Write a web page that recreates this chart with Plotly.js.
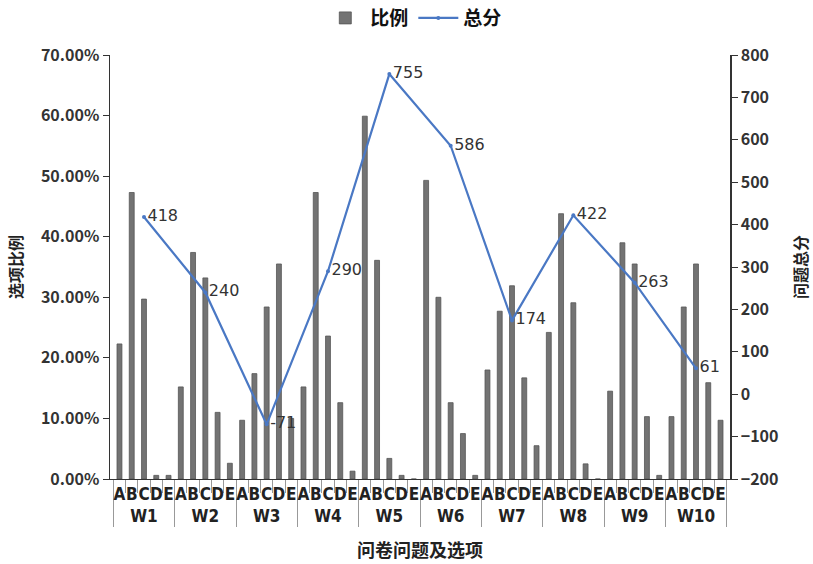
<!DOCTYPE html>
<html>
<head>
<meta charset="utf-8">
<script src="https://cdn.plot.ly/plotly-3.0.1.min.js"></script>
<style>html,body{margin:0;padding:0;background:#fff;}#chart{width:813px;height:564px;}</style>
</head>
<body>
<div id="chart"></div>
<script>
// Questions and options
const questions = ['W1','W2','W3','W4','W5','W6','W7','W8','W9','W10'];
const options = ['A','B','C','D','E'];
// 比例 (share of each option, %) per question, in order A..E
const shareW1 = [22.3, 47.3, 29.7, 0.6, 0.6];
const shareW2 = [15.2, 37.4, 33.2, 11.0, 2.6];
const shareW3 = [9.7, 17.4, 28.4, 35.5, 10.0];
const shareW4 = [15.2, 47.3, 23.6, 12.6, 1.3];
const shareW5 = [59.9, 36.1, 3.4, 0.6, 0.0];
const shareW6 = [49.3, 30.0, 12.6, 7.5, 0.6];
const shareW7 = [18.0, 27.7, 31.9, 16.7, 5.5];
const shareW8 = [24.2, 43.8, 29.1, 2.5, 0.0];
const shareW9 = [14.5, 39.0, 35.5, 10.3, 0.6];
const shareW10 = [10.3, 28.4, 35.5, 15.9, 9.7];
// 总分 (total score) per question
const totalScore = [418, 240, -71, 290, 755, 586, 174, 422, 263, 61];
const scoreAnchorOption = 'C';

const shares = [shareW1, shareW2, shareW3, shareW4, shareW5, shareW6, shareW7, shareW8, shareW9, shareW10];
const xQ = [], xO = [], yS = [];
questions.forEach((q, i) => {
  options.forEach((o, j) => {
    xQ.push(q); xO.push(o); yS.push(shares[i][j] / 100);
  });
});

const tickFont = {family: 'Noto Sans CJK SC, DejaVu Sans', size: 16, color: '#333', weight: 'bold'};

const barTrace = {
  type: 'bar',
  name: '比例',
  x: [xQ, xO],
  y: yS,
  marker: {color: '#737373', line: {color: '#555555', width: 0.8}},
  yaxis: 'y',
  hoverinfo: 'y'
};

const lineTrace = {
  type: 'scatter',
  mode: 'lines+markers+text',
  name: '总分',
  x: [questions, questions.map(() => scoreAnchorOption)],
  y: totalScore,
  yaxis: 'y2',
  line: {color: '#4A78C4', width: 2.2},
  marker: {color: '#4A78C4', size: 4},
  text: totalScore.map(String),
  textposition: 'middle right',
  textfont: {family: 'DejaVu Sans, Noto Sans', size: 16, color: '#333'},
  cliponaxis: false
};

const layout = {
  width: 813,
  height: 564,
  margin: {l: 110, r: 83, t: 55, b: 85},
  paper_bgcolor: '#fff',
  plot_bgcolor: '#fff',
  bargap: 0.6,
  showlegend: true,
  legend: {
    orientation: 'h', x: 0.49, xanchor: 'center',
    yref: 'container', y: 0.968, yanchor: 'middle',
    font: {family: 'Noto Sans CJK SC', size: 19, color: '#111', weight: 'bold'},
    itemwidth: 40,
    traceorder: 'normal'
  },
  xaxis: {
    type: 'multicategory',
    tickmode: 'linear', tick0: 0, dtick: 1, tickangle: 0,
    showline: true, linecolor: '#333', linewidth: 1,
    ticks: 'outside', ticklen: 13, tickcolor: '#999',
    showdividers: true, dividercolor: '#999', dividerwidth: 1,
    tickfont: {family: 'DejaVu Sans Condensed, DejaVu Sans', size: 17, color: '#222', weight: 'bold'},
    title: {text: '问卷问题及选项', font: {family: 'Noto Sans CJK SC', size: 18, color: '#222', weight: 'bold'}, standoff: 18},
    showgrid: false, zeroline: false, automargin: false
  },
  yaxis: {
    range: [0, 0.7], dtick: 0.1, tickformat: '.2%',
    showline: true, linecolor: '#333', linewidth: 1.5,
    ticks: 'outside', ticklen: 6, tickcolor: '#333',
    tickfont: tickFont,
    showgrid: false, zeroline: false,
    title: {text: '选项比例', font: {family: 'Noto Sans CJK SC', size: 16, color: '#222', weight: 'bold'}, standoff: 14},
    automargin: false
  },
  yaxis2: {
    overlaying: 'y', side: 'right',
    range: [-200, 800], dtick: 100,
    showline: true, linecolor: '#333', linewidth: 1.5,
    ticks: 'outside', ticklen: 6, tickcolor: '#333',
    tickfont: tickFont,
    showgrid: false, zeroline: false,
    title: {text: '问题总分', font: {family: 'Noto Sans CJK SC', size: 16, color: '#222', weight: 'bold'}, standoff: 18},
    automargin: false
  }
};

Plotly.newPlot('chart', [barTrace, lineTrace], layout, {displayModeBar: false, staticPlot: true});
</script>
</body>
</html>
